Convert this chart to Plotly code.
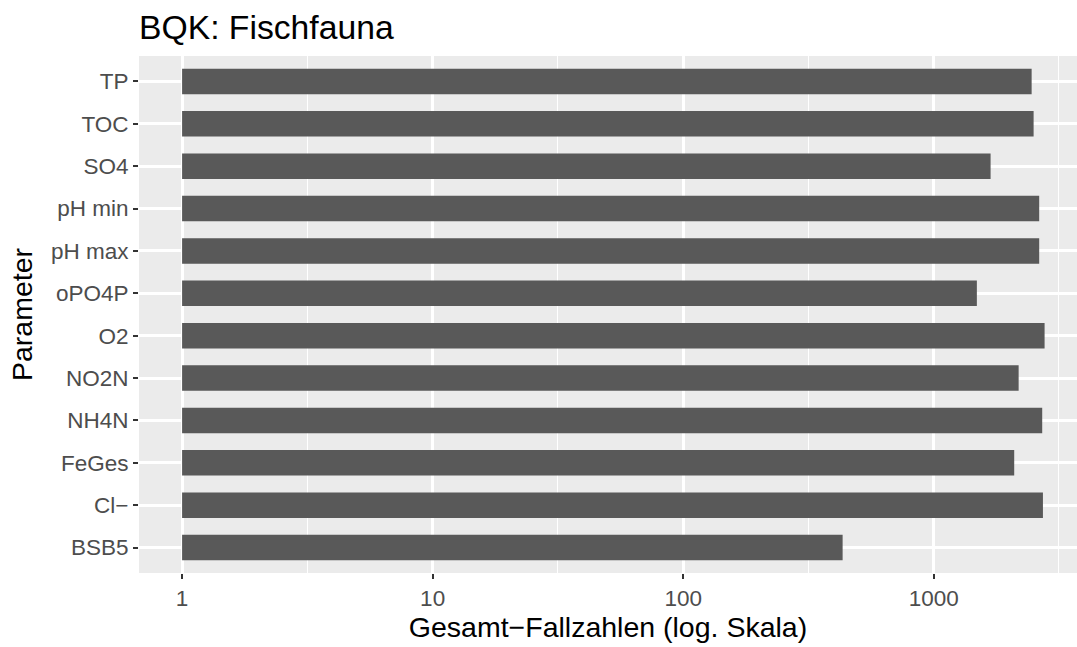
import plotly.graph_objs as go
import numpy as np

# -----------------------------------------------------------
# Data (values on a log scale)
# -----------------------------------------------------------

parameters = ["BSB5", "Cl\u2212", "FeGes", "NH4N", "NO2N", "O2",
              "oPO4P", "pH max", "pH min", "SO4", "TOC", "TP"]
fallzahlen = [433, 2729, 2096, 2711, 2183, 2771,
              1487, 2637, 2637, 1687, 2505, 2460]

major_ticks = [1, 10, 100, 1000]
major_labels = ["1", "10", "100", "1000"]
minor_ticks = [10 ** 0.5, 10 ** 1.5, 10 ** 2.5, 10 ** 3.5]

FONT = "Liberation Sans, Arial, Helvetica, sans-serif"

# -----------------------------------------------------------
# Figure
# -----------------------------------------------------------

fig = go.Figure()

# bars start at 1 (log 0) like ggplot's log scale, so base=1 and length = value - 1
fig.add_trace(
    go.Bar(
        y=parameters,
        x=np.asarray(fallzahlen) - 1,
        base=1,
        orientation="h",
        width=0.6,
        marker=dict(color="#595959", line=dict(width=0)),
        customdata=fallzahlen,
        hovertemplate="%{y}: %{customdata}<extra></extra>",
    )
)

fig.update_layout(
    width=1077,
    height=647,
    margin=dict(l=139, r=0, t=56, b=74),
    paper_bgcolor="white",
    plot_bgcolor="#EBEBEB",
    showlegend=False,
    bargap=0.4,
    font=dict(family=FONT, color="#4D4D4D"),
    title=dict(
        text="BQK: Fischfauna",
        font=dict(size=33.7, color="black", family=FONT),
        x=0,
        xref="paper",
        xanchor="left",
        y=1 - 15 / 647,
        yref="container",
        yanchor="top",
    ),
)

fig.update_xaxes(
    type="log",
    range=[-0.172, 3.572],
    tickvals=major_ticks,
    ticktext=major_labels,
    tickfont=dict(size=22.5, color="#4D4D4D"),
    ticks="outside",
    ticklen=5,
    tickwidth=2,
    tickcolor="#333333",
    showgrid=True,
    gridcolor="white",
    gridwidth=2.5,
    minor=dict(tickvals=minor_ticks, showgrid=True, gridcolor="white", gridwidth=1.2, ticks=""),
    zeroline=False,
    showline=False,
    title=dict(text="Gesamt\u2212Fallzahlen (log. Skala)", font=dict(size=28.5, color="black"), standoff=1),
)

fig.update_yaxes(
    type="category",
    categoryorder="array",
    categoryarray=parameters,
    range=[-0.6, len(parameters) - 0.4],
    tickfont=dict(size=22.5, color="#4D4D4D"),
    ticks="outside",
    ticklen=5,
    tickwidth=2,
    tickcolor="#333333",
    showgrid=True,
    gridcolor="white",
    gridwidth=2.5,
    zeroline=False,
    showline=False,
    title=dict(text="Parameter", font=dict(size=28.5, color="black"), standoff=9),
)

# drop the page's default body margin so the figure sits at the window's corner
fig.write_html(
    "out.html",
    config={"displayModeBar": False},
    post_script="document.body.style.margin='0';",
)
